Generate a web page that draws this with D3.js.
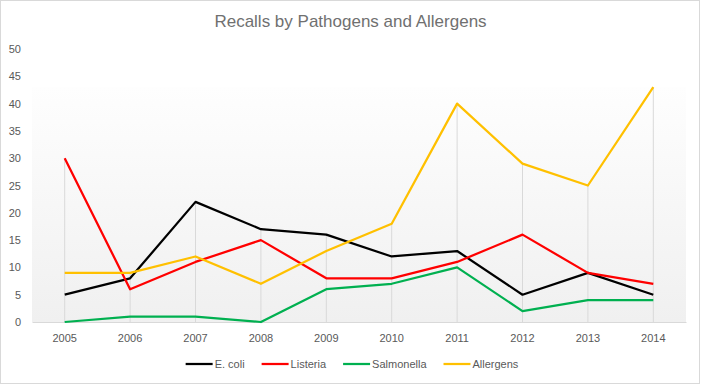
<meta charset="utf-8">
<title>Recalls by Pathogens and Allergens</title>
<style>
  body { margin: 0; background: #fff; }
  text { font-family: "Liberation Sans", Arial, sans-serif; fill: #595959; }
</style>
<body>
<script src="https://cdn.jsdelivr.net/npm/d3@7"></script>
<script>

var years = ['2005','2006','2007','2008','2009','2010','2011','2012','2013','2014'];
var ecoli      = [5, 8, 22, 17, 16, 12, 13, 5, 9, 5];
var listeria   = [30, 6, 11, 15, 8, 8, 11, 16, 9, 7];
var salmonella = [0, 1, 1, 0, 6, 7, 10, 2, 4, 4];
var allergens  = [9, 9, 12, 7, 13, 18, 40, 29, 25, 43];
var seriesNames = ['E. coli', 'Listeria', 'Salmonella', 'Allergens'];
var yTicks = [0, 5, 10, 15, 20, 25, 30, 35, 40, 45, 50];

var series = [ecoli, listeria, salmonella, allergens];
var colors = ['#000000', '#ff0000', '#00b050', '#ffc000'];

var width = 701, height = 385;
var margin = { top: 49, right: 15, bottom: 63, left: 32 };

var svg = d3.select('body').append('svg')
    .attr('width', width)
    .attr('height', height);

// chart border
svg.append('rect')
    .attr('x', 0.5).attr('y', 0.5)
    .attr('width', width - 2).attr('height', height - 2)
    .attr('fill', '#fff')
    .attr('stroke', '#d9d9d9');

var x = d3.scaleBand()
    .domain(years)
    .range([margin.left, width - margin.right]);

var y = d3.scaleLinear()
    .domain([0, 50])
    .range([height - margin.bottom, margin.top]);

// plot area gradient
var grad = svg.append('defs').append('linearGradient')
    .attr('id', 'bg').attr('x1', 0).attr('y1', 0).attr('x2', 0).attr('y2', 1);
grad.append('stop').attr('offset', '0%').attr('stop-color', '#fefefe');
grad.append('stop').attr('offset', '100%').attr('stop-color', '#f0f0f0');

svg.append('rect')
    .attr('x', margin.left)
    .attr('y', y(43))
    .attr('width', x.range()[1] - margin.left)
    .attr('height', y(0) - y(43))
    .attr('fill', 'url(#bg)');

// title
svg.append('text')
    .attr('x', width / 2)
    .attr('y', 27)
    .attr('text-anchor', 'middle')
    .style('font-size', '17px')
    .style('fill', '#707070')
    .text('Recalls by Pathogens and Allergens');

// drop lines
svg.append('g').selectAll('line')
    .data(years)
    .enter().append('line')
    .attr('x1', function(d){ return x(d) + x.bandwidth() / 2; })
    .attr('x2', function(d){ return x(d) + x.bandwidth() / 2; })
    .attr('y1', function(d, i){ return y(d3.max(series, function(s){ return s[i]; })); })
    .attr('y2', y(0))
    .attr('stroke', '#d9d9d9')
    .attr('stroke-width', 1);

// y axis labels
var yAxis = d3.axisLeft(y).tickValues(yTicks).tickSize(0).tickPadding(0);
var gY = svg.append('g')
    .attr('transform', 'translate(21,0)')
    .call(yAxis);
gY.select('.domain').remove();
gY.selectAll('text').style('font-size', '11px').style('fill', '#595959').style('font-family', null);

// x axis
var xAxis = d3.axisBottom(x).tickSize(0).tickPadding(12);
var gX = svg.append('g')
    .attr('transform', 'translate(0,' + y(0) + ')')
    .call(xAxis);
gX.select('.domain').attr('stroke', '#d9d9d9');
gX.selectAll('text').style('font-size', '11px').style('fill', '#595959').style('font-family', null);

// lines
var line = d3.line()
    .x(function(d, i){ return x(years[i]) + x.bandwidth() / 2; })
    .y(function(d){ return y(d); });

svg.append('g').selectAll('path')
    .data(series)
    .enter().append('path')
    .attr('d', line)
    .attr('fill', 'none')
    .attr('stroke', function(d, i){ return colors[i]; })
    .attr('stroke-width', 2.25)
    .attr('stroke-linejoin', 'round');

// legend
var legend = svg.append('g');
var lx = 0;
seriesNames.forEach(function(name, i){
  var g = legend.append('g').attr('transform', 'translate(' + lx + ',0)');
  g.append('line')
    .attr('x1', 0).attr('x2', 27)
    .attr('y1', 0).attr('y2', 0)
    .attr('stroke', colors[i])
    .attr('stroke-width', 2.25);
  var t = g.append('text')
    .attr('x', 29).attr('y', 4)
    .style('font-size', '11px')
    .text(name);
  lx += 29 + t.node().getComputedTextLength() + 17;
});
lx -= 17;
legend.attr('transform', 'translate(' + (352 - lx / 2) + ',364)');

</script>
</body>
